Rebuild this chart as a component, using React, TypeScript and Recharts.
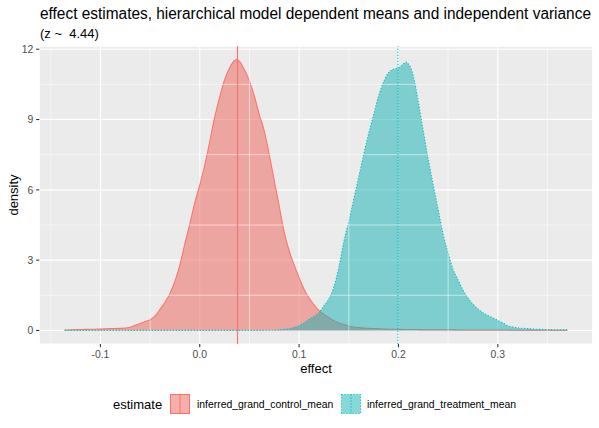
import React from 'react';
import { ComposedChart, Area, XAxis, YAxis, CartesianGrid, ReferenceLine } from 'recharts';

// density grid (effect) and the two estimated densities
const effect = [
  -0.136, -0.12, -0.11, -0.1, -0.09, -0.08, -0.07, -0.065, -0.06, -0.055,
  -0.05, -0.045, -0.04, -0.035, -0.03, -0.025, -0.02, -0.015, -0.01, -0.005,
  0, 0.005, 0.01, 0.015, 0.02, 0.025, 0.03, 0.035, 0.0375, 0.04,
  0.045, 0.05, 0.055, 0.06, 0.065, 0.07, 0.075, 0.08, 0.085, 0.09,
  0.095, 0.1, 0.105, 0.11, 0.115, 0.12, 0.125, 0.13, 0.135, 0.14,
  0.145, 0.15, 0.155, 0.16, 0.165, 0.17, 0.175, 0.18, 0.185, 0.19,
  0.195, 0.2, 0.205, 0.2075, 0.21, 0.215, 0.22, 0.225, 0.23, 0.235,
  0.24, 0.245, 0.25, 0.255, 0.26, 0.265, 0.27, 0.275, 0.28, 0.285,
  0.29, 0.295, 0.3, 0.305, 0.31, 0.315, 0.32, 0.33, 0.34, 0.35,
  0.36, 0.37,
];
const controlDensity = [
  0.02, 0.04, 0.05, 0.06, 0.08, 0.09, 0.14, 0.22, 0.3, 0.38,
  0.46, 0.62, 0.9, 1.2, 1.58, 2.1, 2.8, 3.7, 4.55, 5.45,
  6.2, 7.05, 8.05, 9.1, 9.95, 10.7, 11.2, 11.52, 11.56, 11.48,
  11.12, 10.65, 10.0, 9.2, 8.5, 7.5, 6.4, 5.3, 4.2, 3.4,
  2.8, 2.25, 1.76, 1.38, 1.1, 0.85, 0.68, 0.55, 0.42, 0.32,
  0.25, 0.19, 0.15, 0.12, 0.1, 0.09, 0.08, 0.07, 0.06, 0.05,
  0.05, 0.05, 0.04, 0.04, 0.04, 0.04, 0.04, 0.03, 0.03, 0.03,
  0.03, 0.03, 0.03, 0.03, 0.02, 0.02, 0.02, 0.02, 0.02, 0.02,
  0.02, 0.02, 0.02, 0.02, 0.02, 0.01, 0.01, 0.01, 0.01, 0.01,
  0.01, 0.01,
];
const treatmentDensity = [
  0.005, 0.005, 0.005, 0.005, 0.005, 0.005, 0.005, 0.005, 0.005, 0.005,
  0.005, 0.005, 0.005, 0.005, 0.005, 0.005, 0.005, 0.005, 0.005, 0.005,
  0.005, 0.005, 0.005, 0.005, 0.005, 0.005, 0.005, 0.005, 0.005, 0.005,
  0.005, 0.005, 0.005, 0.005, 0.01, 0.01, 0.01, 0.03, 0.05, 0.07,
  0.13, 0.2, 0.32, 0.47, 0.6, 0.75, 1.05, 1.35, 1.85, 2.7,
  3.8, 4.65, 5.6, 6.55, 7.5, 8.4, 9.2, 10.0, 10.6, 11.0,
  11.15, 11.2, 11.38, 11.45, 11.38, 10.85, 9.75, 8.5, 7.3, 6.2,
  5.15, 4.1, 3.3, 2.6, 2.15, 1.72, 1.38, 1.12, 0.92, 0.76,
  0.64, 0.54, 0.43, 0.32, 0.2, 0.15, 0.11, 0.08, 0.05, 0.04,
  0.03, 0.03,
];

const controlMean = 0.038;
const treatmentMean = 0.1995;

const xTicks = [-0.1, 0, 0.1, 0.2, 0.3];
const xMinor = [-0.15, -0.05, 0.05, 0.15, 0.25, 0.35];
const yTicks = [0, 3, 6, 9, 12];
const yMinor = [1.5, 4.5, 7.5, 10.5];

const seriesNames = ['inferred_grand_control_mean', 'inferred_grand_treatment_mean'];

const RED = '#F8766D';
const TEAL = '#00BFC4';
// fills tuned so the half-transparent overlap reads grey as in the reference
const RED_FILL = '#EF5F58';
const TEAL_FILL = '#14B2B3';
const FONT = '"Liberation Sans", Arial, Helvetica, sans-serif';
const DOTS = '1.2 1.8';

const data = effect.map((x, i) => ({
  effect: x,
  control: controlDensity[i],
  treatment: treatmentDensity[i],
}));

export default function App() {
  return (
    <div style={{ position: 'absolute', left: 0, top: 0, width: 599, height: 428, background: '#fff' }}>
      <ComposedChart
        width={599}
        height={428}
        data={data}
        margin={{ top: 46.2, right: 6.3, left: 0, bottom: 54 }}
      >
        <CartesianGrid fill="#EBEBEB" stroke="#fff" strokeWidth={1.07} />
        {xMinor.map((v) => (
          <ReferenceLine key={'mx' + v} x={v} stroke="#fff" strokeWidth={0.53} />
        ))}
        {yMinor.map((v) => (
          <ReferenceLine key={'my' + v} y={v} stroke="#fff" strokeWidth={0.53} />
        ))}
        <XAxis
          type="number"
          dataKey="effect"
          domain={[-0.1615, 0.3955]}
          allowDataOverflow
          ticks={xTicks}
          interval={0}
          tickFormatter={(v) => v.toFixed(1)}
          axisLine={false}
          tickLine={{ stroke: '#333333', strokeWidth: 1.07 }}
          tickSize={3.2}
          tickMargin={3}
          tick={{ fontSize: 10.4, fill: '#4D4D4D', fontFamily: FONT }}
          height={30}
        />
        <YAxis
          type="number"
          domain={[-0.578, 12.13]}
          allowDataOverflow
          ticks={yTicks}
          interval={0}
          axisLine={false}
          tickLine={{ stroke: '#333333', strokeWidth: 1.07 }}
          tickSize={3.2}
          tickMargin={2.8}
          tick={{ fontSize: 10.4, fill: '#4D4D4D', fontFamily: FONT }}
          width={39.3}
        />
        <Area
          type="monotone"
          dataKey="control"
          baseValue={0}
          stroke={RED}
          strokeWidth={1.07}
          fill={RED_FILL}
          fillOpacity={0.5}
          isAnimationActive={false}
        />
        <Area
          type="monotone"
          dataKey="treatment"
          baseValue={0}
          stroke={TEAL}
          strokeWidth={1.1}
          strokeDasharray={DOTS}
          fill={TEAL_FILL}
          fillOpacity={0.5}
          isAnimationActive={false}
        />
        <ReferenceLine
          x={controlMean}
          stroke={RED}
          strokeWidth={1.2}
          style={{ stroke: RED }}
        />
        <ReferenceLine x={treatmentMean} stroke={TEAL} strokeWidth={1.1} strokeDasharray={DOTS} />
      </ComposedChart>

      <svg
        width={599}
        height={428}
        style={{ position: 'absolute', left: 0, top: 0, pointerEvents: 'none' }}
        fontFamily={FONT}
      >
        <text x={40} y={18.5} fontSize={15.6} fill="#000" textLength={551} lengthAdjust="spacingAndGlyphs">
          effect estimates, hierarchical model dependent means and independent variance
        </text>
        <text x={40} y={37.5} fontSize={13} fill="#000">
          {'(z ~\u00A0\u00A04.44)'}
        </text>
        <text x={316} y={372.5} fontSize={13} fill="#000" textAnchor="middle">
          effect
        </text>
        <text
          x={0}
          y={0}
          fontSize={13}
          fill="#000"
          textAnchor="middle"
          transform="translate(17.5,195) rotate(-90)"
        >
          density
        </text>

        <text x={113} y={408.5} fontSize={13} fill="#000">
          estimate
        </text>
        <rect x={170.5} y={394.5} width={19} height={19} fill={RED_FILL} fillOpacity={0.5} stroke={RED} strokeWidth={1.07} />
        <line x1={180} y1={394.5} x2={180} y2={413.5} stroke={RED} strokeWidth={1.07} />
        <text x={197} y={407.6} fontSize={10.4} fill="#000">
          {seriesNames[0]}
        </text>
        <rect
          x={341.5}
          y={394.5}
          width={19}
          height={19}
          fill={TEAL_FILL}
          fillOpacity={0.5}
          stroke={TEAL}
          strokeWidth={1.1}
          strokeDasharray={DOTS}
        />
        <line x1={351} y1={394.5} x2={351} y2={413.5} stroke={TEAL} strokeWidth={1.1} strokeDasharray={DOTS} />
        <text x={367} y={407.6} fontSize={10.4} fill="#000">
          {seriesNames[1]}
        </text>
      </svg>
    </div>
  );
}
